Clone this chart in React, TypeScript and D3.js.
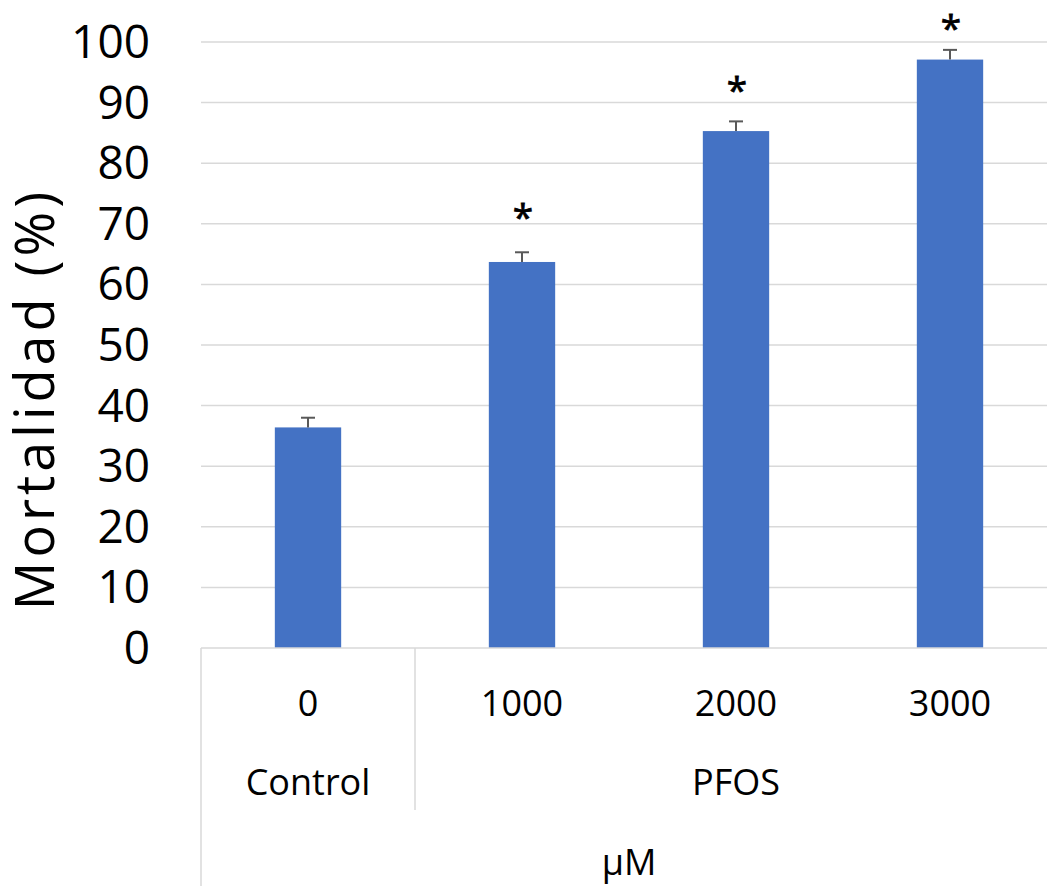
import React from "react";
import * as d3 from "d3";

const doses = ["0", "1000", "2000", "3000"];
const groups = ["Control", "PFOS", "PFOS", "PFOS"];
const mortality = [36.4, 63.7, 85.3, 97.1];
const errors = [1.6, 1.6, 1.6, 1.6];
const significant = [false, true, true, true];
// vertical position (in % units) of the bottom of each significance asterisk
const starLevel = [0, 70.3, 91.3, 101.6];
const yTicks = [0, 10, 20, 30, 40, 50, 60, 70, 80, 90, 100];
const yLabel = "Mortalidad (%)";
const xUnit = "µM";

const W = 1047;
const H = 886;
const FONT = "'Open Sans', 'Noto Sans', sans-serif";

export default function App() {
  const left = 201;
  const right = 1057;
  const y0 = 648;
  const yTop = 42;
  const x = d3.scaleBand<string>().domain(doses).range([left, right]).paddingInner(0.69).paddingOuter(0.345);
  const y = d3.scaleLinear().domain([0, 100]).range([y0, yTop]);
  const bw = x.bandwidth();
  const step = x.step();
  const grid = "#d9d9d9";

  const ctrlEnd = left + step;
  const pfosCenter = (ctrlEnd + right) / 2;

  return (
    <svg width={W} height={H} style={{ position: "absolute", left: 0, top: 0, display: "block", background: "#fff" }} fontFamily={FONT}>
      {yTicks.map((t) => (
        <g key={t}>
          {t > 0 && <line x1={left} x2={right} y1={y(t)} y2={y(t)} stroke={grid} strokeWidth={1.5} />}
          <text x={150} y={y(t) + 16} textAnchor="end" fontSize={46} fill="#000">{t}</text>
        </g>
      ))}
      <text transform={`translate(54, ${399}) rotate(-90)`} textAnchor="middle" fontSize={54} letterSpacing={4} fill="#000">{yLabel}</text>

      {doses.map((d, i) => {
        const cx = (x(d) as number) + bw / 2;
        const top = y(mortality[i]);
        const eTop = y(mortality[i] + errors[i]);
        return (
          <g key={d}>
            <rect x={x(d)} y={top} width={bw} height={y0 - top} fill="#4472C4" />
            <line x1={cx} x2={cx} y1={top} y2={eTop} stroke="#595959" strokeWidth={2} />
            <line x1={cx - 7} x2={cx + 7} y1={eTop} y2={eTop} stroke="#595959" strokeWidth={2} />
            {significant[i] && (
              <text x={cx + 1} y={y(starLevel[i]) + 8.5} textAnchor="middle" fontSize={37} fill="#000" stroke="#000" strokeWidth={0.8}>*</text>
            )}
            <text x={cx} y={716} textAnchor="middle" fontSize={36} fill="#000">{d}</text>
          </g>
        );
      })}

      <line x1={left} x2={right} y1={y0} y2={y0} stroke={grid} strokeWidth={1.5} />
      <line x1={left} x2={left} y1={y0} y2={H} stroke={grid} strokeWidth={1.5} />
      <line x1={ctrlEnd} x2={ctrlEnd} y1={y0} y2={810} stroke={grid} strokeWidth={1.5} />
      <text x={(left + ctrlEnd) / 2} y={795} textAnchor="middle" fontSize={36} fill="#000">{groups[0]}</text>
      <text x={pfosCenter} y={795} textAnchor="middle" fontSize={36} fill="#000">{groups[1]}</text>
      <text x={(left + right) / 2} y={875} textAnchor="middle" fontSize={36} fill="#000">{xUnit}</text>
    </svg>
  );
}
